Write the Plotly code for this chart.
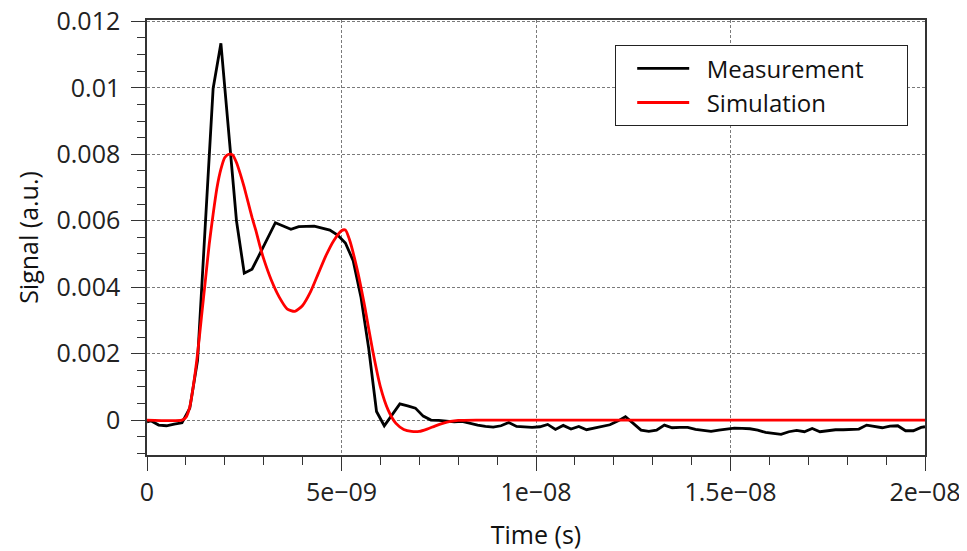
import plotly.graph_objects as go

# ---- data ----
# Measurement: sample times (ns) and signal (units of 1e-3 a.u.)
meas_t_ns = [0.0] + [round(0.1 + 0.2 * k, 1) for k in range(100)] + [20.0]
meas_v_milli = [
    -0.05,
    -0.02, -0.15, -0.17, -0.12, -0.08, 0.36, 1.8, 5.9, 9.98, 11.34,   # 0.1 .. 1.9
    8.7, 6.0, 4.42, 4.54, 5.0, 5.47, 5.94, 5.84, 5.74, 5.82,          # 2.1 .. 3.9
    5.82, 5.84, 5.78, 5.72, 5.57, 5.33, 4.8, 3.7, 2.15, 0.26,         # 4.1 .. 5.9
    -0.17, 0.16, 0.49, 0.43, 0.36, 0.12, 0.0, -0.01, -0.04, -0.05,    # 6.1 .. 7.9
    -0.04, -0.1, -0.15, -0.19, -0.21, -0.17, -0.07, -0.19, -0.2, -0.22,  # 8.1 .. 9.9
    -0.2, -0.13, -0.28, -0.16, -0.27, -0.19, -0.29, -0.24, -0.2, -0.14,  # 10.1 .. 11.9
    -0.03, 0.1, -0.1, -0.3, -0.34, -0.3, -0.15, -0.23, -0.22, -0.22,   # 12.1 .. 13.9
    -0.28, -0.32, -0.34, -0.3, -0.26, -0.24, -0.25, -0.26, -0.3, -0.37,  # 14.1 .. 15.9
    -0.4, -0.43, -0.35, -0.31, -0.35, -0.25, -0.35, -0.31, -0.29, -0.29,  # 16.1 .. 17.9
    -0.29, -0.27, -0.15, -0.2, -0.23, -0.18, -0.17, -0.32, -0.32, -0.22,  # 18.1 .. 19.9
    -0.2,
]

# Simulation: times (ns) and signal (units of 1e-3 a.u.)
sim_t_ns = [0.0, 0.9, 1.0, 1.1, 1.2, 1.3, 1.4, 1.5, 1.6, 1.7, 1.8, 1.9, 2.0, 2.1, 2.2,
            2.3, 2.4, 2.5, 2.6, 2.7, 2.8, 2.9, 3.0, 3.2, 3.4, 3.6, 3.8, 4.0, 4.2,
            4.4, 4.6, 4.8, 5.0, 5.1, 5.2, 5.4, 5.6, 5.8, 6.0, 6.2, 6.4, 6.6, 6.8,
            7.0, 7.2, 7.4, 7.6, 7.8, 8.0, 8.5, 20.0]
sim_v_milli = [0.0, 0.0, 0.08, 0.4, 1.1, 2.0, 3.1, 4.2, 5.3, 6.2, 7.0, 7.55, 7.9, 8.0, 7.98,
               7.75, 7.4, 7.0, 6.55, 6.1, 5.7, 5.25, 4.85, 4.2, 3.7, 3.35, 3.27, 3.45, 3.85,
               4.4, 4.95, 5.4, 5.7, 5.72, 5.45, 4.55, 3.4, 2.1, 1.0, 0.3, -0.1, -0.28, -0.34,
               -0.34, -0.27, -0.18, -0.1, -0.04, -0.01, 0.0, 0.0]

series_names = ["Measurement", "Simulation"]
x_tickvals = [0, 5e-9, 1e-8, 1.5e-8, 2e-8]
x_ticktext = ["0", "5e\u221209", "1e\u221208", "1.5e\u221208", "2e\u221208"]
y_tickvals = [0, 0.002, 0.004, 0.006, 0.008, 0.01, 0.012]
y_ticktext = ["0", "0.002", "0.004", "0.006", "0.008", "0.01", "0.012"]

FONT = "Open Sans"
NB = "\u00a0"

fig = go.Figure()
fig.add_trace(go.Scatter(
    x=[t * 1e-9 for t in meas_t_ns], y=[v * 1e-3 for v in meas_v_milli],
    mode="lines", name=NB * 2 + series_names[0] + NB * 6,
    line=dict(color="#000000", width=2.8),
))
fig.add_trace(go.Scatter(
    x=[t * 1e-9 for t in sim_t_ns], y=[v * 1e-3 for v in sim_v_milli],
    mode="lines", name=NB * 2 + series_names[1],
    line=dict(color="#ff0000", width=2.8, shape="spline", smoothing=0.6),
))

axis_common = dict(
    showline=True, linecolor="#333333", linewidth=1.5, mirror=True,
    ticks="outside", tickcolor="#333333", tickwidth=1.2,
    showgrid=True, gridcolor="#7a7a7a", gridwidth=1, griddash="3px,2px",
    zeroline=False, automargin=False, ticklabeloverflow="allow",
    tickfont=dict(family=FONT, size=25, color="#222222"),
)

fig.update_xaxes(
    **axis_common,
    range=[0, 2e-8],
    tickmode="array", tickvals=x_tickvals, ticktext=x_ticktext,
    ticklen=14, ticklabelstandoff=0,
    minor=dict(tickmode="linear", tick0=0, dtick=1e-9, ticks="outside",
               ticklen=8, tickcolor="#333333", showgrid=False),
    title=dict(text="Time (s)", font=dict(family=FONT, size=25, color="#111111"), standoff=22),
)
fig.update_yaxes(
    **axis_common,
    range=[-0.00105, 0.01204],
    tickmode="array", tickvals=y_tickvals, ticktext=y_ticktext,
    ticklen=14, ticklabelstandoff=6,
    minor=dict(tickmode="linear", tick0=0, dtick=0.0005, ticks="outside",
               ticklen=8, tickcolor="#333333", showgrid=False),
    title=dict(text="Signal (a.u.)", font=dict(family=FONT, size=25, color="#111111"), standoff=11),
)

# The page body adds an 8 px offset, so the figure is 8 px smaller and margins shifted.
fig.update_layout(
    width=959, height=543,
    margin=dict(l=139, r=42, t=12, b=96),
    paper_bgcolor="white", plot_bgcolor="white",
    font=dict(family=FONT, size=24, color="#222222"),
    showlegend=True,
    legend=dict(
        x=(615 - 147) / 778, y=(455 - 45) / 435, xanchor="left", yanchor="top",
        bgcolor="white", bordercolor="#222222", borderwidth=1.2,
        font=dict(family=FONT, size=24, color="#111111"),
        itemwidth=52, indentation=16, tracegroupgap=0,
    ),
)

fig.write_html("out.html")
